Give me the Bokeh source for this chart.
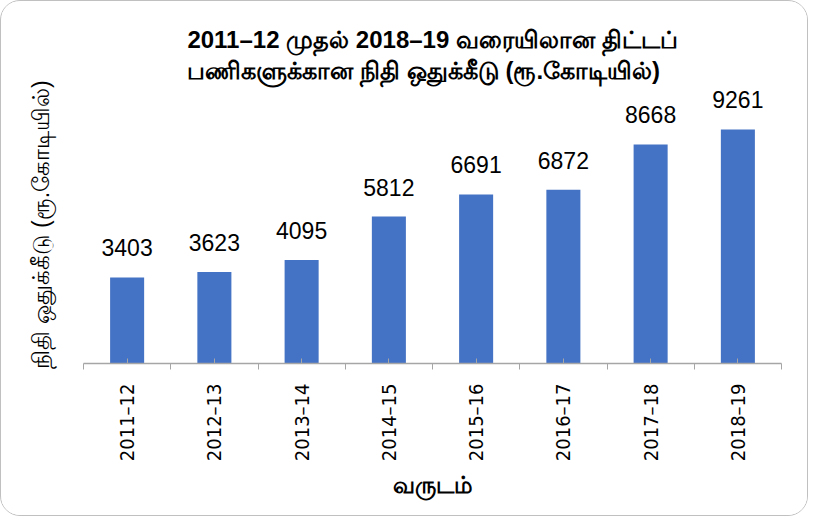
from bokeh.plotting import figure
from bokeh.models import Range1d, FixedTicker, Title, LabelSet, ColumnDataSource
from bokeh.core.properties import value
from bokeh.embed import file_html
from bokeh.resources import INLINE

years = ["2011–12", "2012–13", "2013–14", "2014–15", "2015–16", "2016–17", "2017–18", "2018–19"]
allocation = [3403, 3623, 4095, 5812, 6691, 6872, 8668, 9261]

title_line1 = "2011–12 முதல் 2018–19 வரையிலான திட்டப்"
title_line2 = "பணிகளுக்கான நிதி ஒதுக்கீடு (ரூ.கோடியில்)"
y_label = "நிதி ஒதுக்கீடு (ரூ.கோடியில்)"
x_label = "வருடம்"

centers = [i + 0.5 for i in range(len(years))]
bounds = [float(i) for i in range(len(years) + 1)]

FONT = "Liberation Sans"
NARROW = "'Liberation Sans Narrow', 'DejaVu Sans Condensed', 'Liberation Sans'"

src = ColumnDataSource(dict(x=centers, top=allocation, lab=[str(v) for v in allocation]))

p = figure(width=808, height=516, output_backend="svg", toolbar_location=None,
           x_range=Range1d(0, len(years)), y_range=Range1d(0, 11000),
           min_border_left=82, min_border_right=28, min_border_top=84, min_border_bottom=154,
           title=None)

p.styles = {"border": "1.5px solid #c0c0c0", "border-radius": "20px", "overflow": "hidden"}

t = Title(text=title_line1 + "\n" + title_line2, align="center", text_font=FONT,
          text_font_size="24px", text_font_style="bold", text_color="#000000",
          text_line_height=1.15, standoff=3)
p.add_layout(t, "above")

p.vbar(x="x", top="top", width=0.39, color="#4472C4", line_color=None, source=src)

labels = LabelSet(x="x", y="top", text="lab", source=src, text_align="center",
                  text_baseline="alphabetic", y_offset=21, text_font=value(FONT),
                  text_font_size=value("23px"), text_color="#000000")
p.add_layout(labels)

xa = p.xaxis[0]
xa.ticker = FixedTicker(ticks=centers, minor_ticks=bounds)
xa.major_label_overrides = {c: y for c, y in zip(centers, years)}
xa.major_label_orientation = 3.14159265 / 2
xa.major_label_text_font = NARROW
xa.major_label_text_font_size = "20px"
xa.major_label_text_color = "#000000"
xa.major_label_standoff = 14
xa.major_tick_in = 5
xa.major_tick_out = 0
xa.minor_tick_in = 0
xa.minor_tick_out = 6
xa.major_tick_line_color = "#a6a6a6"
xa.minor_tick_line_color = "#a6a6a6"
xa.axis_line_color = "#a6a6a6"
xa.axis_line_width = 1.5
xa.axis_label = x_label
xa.axis_label_text_font = FONT
xa.axis_label_text_font_size = "23px"
xa.axis_label_text_font_style = "bold"
xa.axis_label_text_color = "#000000"
xa.axis_label_standoff = 8

ya = p.yaxis[0]
ya.axis_line_color = None
ya.major_tick_line_color = None
ya.minor_tick_line_color = None
ya.major_label_text_font_size = "0px"
ya.axis_label = y_label
ya.axis_label_text_font = FONT
ya.axis_label_text_font_size = "23px"
ya.axis_label_text_font_style = "normal"
ya.axis_label_text_color = "#000000"
ya.axis_label_standoff = 24

p.xgrid.grid_line_color = None
p.ygrid.grid_line_color = None
p.outline_line_color = None
p.background_fill_color = "white"
p.border_fill_color = "white"

open("out.html", "w").write(file_html(p, INLINE))
